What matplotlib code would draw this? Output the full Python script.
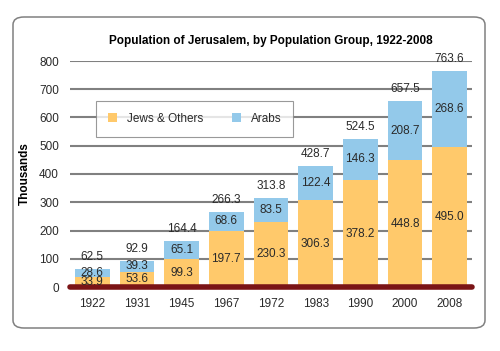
import numpy as np
import matplotlib.pyplot as plt
from matplotlib.patches import FancyBboxPatch

plt.rcParams['font.family'] = ['Liberation Sans', 'DejaVu Sans']

years = ['1922', '1931', '1945', '1967', '1972', '1983', '1990', '2000', '2008']
jews = [33.9, 53.6, 99.3, 197.7, 230.3, 306.3, 378.2, 448.8, 495.0]
arabs = [28.6, 39.3, 65.1, 68.6, 83.5, 122.4, 146.3, 208.7, 268.6]
totals = [62.5, 92.9, 164.4, 266.3, 313.8, 428.7, 524.5, 657.5, 763.6]

c_jews = '#FFC96B'
c_arabs = '#93C9EA'
txt = '#2a2a2a'

fig = plt.figure(figsize=(5, 3.51), dpi=100)
W, H = 500, 351

# rounded frame around the whole chart
frame = FancyBboxPatch((13 / W, (H - 328) / H), (485 - 13) / W, (328 - 17) / H,
                       boxstyle='round,pad=0,rounding_size=0.022',
                       transform=fig.transFigure, facecolor='white',
                       edgecolor='#808080', linewidth=1.1, zorder=-1)
fig.patches.append(frame)

ax = fig.add_axes([70 / W, (H - 287) / H, (472 - 70) / W, (287 - 61) / H])
ax.patch.set_alpha(0)
ax.set_zorder(2)

x = np.arange(len(years))
ax.bar(x, jews, width=0.78, color=c_jews, label='Jews & Others', zorder=3)
ax.bar(x, arabs, width=0.78, bottom=jews, color=c_arabs, label='Arabs', zorder=3)

for i in range(len(years)):
    ax.text(x[i], jews[i] / 2, f'{jews[i]:.1f}', ha='center', va='center',
            fontsize=8.5, color=txt, zorder=5)
    ax.text(x[i], jews[i] + arabs[i] / 2, f'{arabs[i]:.1f}', ha='center', va='center',
            fontsize=8.5, color=txt, zorder=5)
    ax.text(x[i], totals[i] + 42, f'{totals[i]:.1f}', ha='center', va='center',
            fontsize=8.5, color=txt, zorder=5)

ax.set_xlim(-0.5, len(years) - 0.5)
ax.set_ylim(0, 800)
ax.set_yticks(range(0, 801, 100))
ax.set_xticks(x)
ax.set_xticklabels(years)
ax.yaxis.grid(True, color='#808080', linewidth=1.5, zorder=1)
ax.set_axisbelow(True)
for s in ax.spines.values():
    s.set_visible(False)
ax.tick_params(length=0, labelsize=8.5, colors=txt, pad=8)
ax.tick_params(axis='x', pad=8)
ax.axhline(0, color='#7B1416', linewidth=4, solid_capstyle='round', zorder=4, clip_on=False)

ax.set_ylabel('Thousands', fontsize=8.5, fontweight='bold', labelpad=6, color='black')
ax.set_title('Population of Jerusalem, by Population Group, 1922-2008',
             fontsize=8.5, fontweight='bold', pad=12)

leg = ax.legend(loc='upper left', bbox_to_anchor=(26 / 402, 1 - (135 - 61) / 226, (293 - 96) / 402, (135 - 101) / 226),
                mode='expand', ncol=2, fontsize=8.5, frameon=True, fancybox=False,
                handlelength=0.8, handleheight=0.8, borderaxespad=0, borderpad=1.0)
leg.get_frame().set_edgecolor('#808080')
leg.get_frame().set_linewidth(0.8)
for t in leg.get_texts():
    t.set_color(txt)
leg.set_zorder(6)

fig.savefig('out.png', dpi=100)
